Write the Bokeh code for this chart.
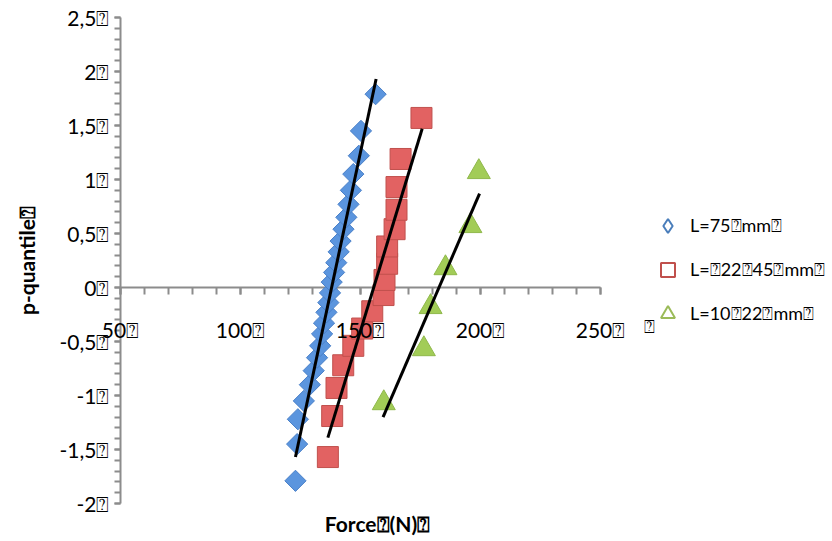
import numpy as np
from bokeh.plotting import figure
from bokeh.models import LinearAxis, FixedTicker, Legend, LegendItem, Label
from bokeh.embed import file_html
from bokeh.resources import INLINE

BOX = "\u2370"
FONT = "Lato, 'DejaVu Sans', sans-serif"

# ---- data ----
s1_name = "L=75" + BOX + "mm" + BOX
s1_force = [122.9, 123.6, 123.9, 126.4, 128.9, 130.5, 131.9, 133.2, 134.0, 134.8,
            135.8, 136.6, 137.3, 138.0, 139.0, 139.9, 140.9, 141.7, 142.9, 144.1,
            145.0, 146.0, 147.0, 149.3, 150.2, 156.3]
s1_q = [-1.79, -1.45, -1.22, -1.05, -0.90, -0.77, -0.65, -0.54, -0.43, -0.33,
        -0.23, -0.14, -0.05, 0.05, 0.14, 0.23, 0.33, 0.43, 0.54, 0.65,
        0.77, 0.90, 1.05, 1.22, 1.45, 1.79]

s2_name = "L=" + BOX + "22" + BOX + "45" + BOX + "mm" + BOX
s2_force = [136.4, 138.2, 140.0, 142.8, 147.0, 150.7, 154.9, 159.6,
            160.0, 161.1, 161.1, 164.2, 165.0, 165.0, 166.7, 175.4]
s2_q = [-1.57, -1.19, -0.93, -0.72, -0.54, -0.38, -0.22, -0.07,
        0.07, 0.22, 0.38, 0.54, 0.72, 0.93, 1.19, 1.57]

s3_name = "L=10" + BOX + "22" + BOX + "mm" + BOX
s3_force = [159.7, 176.4, 179.2, 185.4, 195.8, 199.3]
s3_q = [-1.07, -0.57, -0.18, 0.18, 0.57, 1.07]

fit1_force = [122.9, 156.5]
fit1_q = [-1.57, 1.93]
fit2_force = [136.4, 175.7]
fit2_q = [-1.39, 1.47]
fit3_force = [159.4, 199.6]
fit3_q = [-1.20, 0.87]

x_ticks = [50, 100, 150, 200, 250]
x_tick_labels = ["50" + BOX, "100" + BOX, "150" + BOX, "200" + BOX, "250" + BOX]
y_ticks = [-2, -1.5, -1, -0.5, 0, 0.5, 1, 1.5, 2, 2.5]
y_tick_labels = ["-2" + BOX, "-1,5" + BOX, "-1" + BOX, "-0,5" + BOX, "0" + BOX,
                 "0,5" + BOX, "1" + BOX, "1,5" + BOX, "2" + BOX, "2,5" + BOX]
x_title = "Force" + BOX + "(N)" + BOX
y_title = "p-quantile" + BOX

# ---- figure: frame covers the whole canvas, axes are bounded ----
W, H = 832, 541
X0_PX, PX_PER_N = 120, 2.4      # force 50 sits 120 px from the left
Y0_PX, PX_PER_Q = 287, 108      # quantile 0 sits 287 px from the top
x_lo = 50 - X0_PX / PX_PER_N
x_hi = 50 + (W - X0_PX) / PX_PER_N
y_hi = Y0_PX / PX_PER_Q
y_lo = -(H - Y0_PX) / PX_PER_Q

p = figure(width=W, height=H, x_range=(x_lo, x_hi), y_range=(y_lo, y_hi),
           output_backend="svg", toolbar_location=None,
           x_axis_location=None, y_axis_location=None,
           min_border=0, min_border_left=0, min_border_right=0,
           min_border_top=0, min_border_bottom=0)
p.grid.visible = False
p.outline_line_color = None
p.background_fill_color = "white"

AX = "#8c8c8c"
y_minor = [round(v, 2) for v in np.arange(-2, 2.51, 0.1)]
x_minor = list(range(50, 251, 10))


def make_axes(fixed, bounds, ticks, minor, labels, tick_out, standoff, side, title=None):
    # line + ticks under the markers
    line_ax = LinearAxis(
        fixed_location=fixed, bounds=bounds,
        ticker=FixedTicker(ticks=ticks, minor_ticks=minor),
        major_label_text_alpha=0,
        major_label_overrides=dict(zip(ticks, labels)),
        major_label_text_font=FONT, major_label_text_font_size="21px",
        major_label_standoff=standoff,
        axis_line_color=AX, axis_line_width=2,
        major_tick_line_color=AX, major_tick_line_width=2,
        major_tick_in=0, major_tick_out=tick_out,
        minor_tick_line_color=AX, minor_tick_line_width=2,
        minor_tick_in=0, minor_tick_out=tick_out,
        level="underlay",
    )
    # labels over the markers
    lab_ax = LinearAxis(
        fixed_location=fixed, bounds=bounds,
        ticker=FixedTicker(ticks=ticks, minor_ticks=[]),
        major_label_overrides=dict(zip(ticks, labels)),
        major_label_text_font=FONT, major_label_text_font_size="21px",
        major_label_text_color="black", major_label_standoff=standoff,
        axis_line_color=None, major_tick_line_color=None, minor_tick_line_color=None,
        major_tick_in=0, major_tick_out=tick_out,
        level="guide",
    )
    if title is not None:
        lab_ax.axis_label = title
        lab_ax.axis_label_text_font = FONT
        lab_ax.axis_label_text_font_size = "21px"
        lab_ax.axis_label_text_font_style = "bold"
        lab_ax.axis_label_text_color = "black"
        lab_ax.axis_label_standoff = 18
    p.add_layout(line_ax, side)
    p.add_layout(lab_ax, side)


make_axes(50, (-2, 2.5), y_ticks, y_minor, y_tick_labels, 6, 5, "left", y_title)
make_axes(0, (50, 250), x_ticks, x_minor, x_tick_labels, 7, 22, "below")

# ---- series ----
p.scatter(s1_force, s1_q, marker="square", angle=np.pi / 4, size=15,
          fill_color="#5b95de", line_color="#4a80c8", line_width=1)
p.scatter(s2_force, s2_q, marker="square", size=21,
          fill_color="#e26262", line_color="#c0504d", line_width=1)
p.scatter(s3_force, s3_q, marker="triangle", size=23,
          fill_color="#a2cc57", line_color="#8fb84b", line_width=1)

p.line(fit1_force, fit1_q, line_color="black", line_width=3)
p.line(fit2_force, fit2_q, line_color="black", line_width=3)
p.line(fit3_force, fit3_q, line_color="black", line_width=3)

# legend (hollow markers as in the reference)
l1 = p.scatter([np.nan], [np.nan], marker="diamond", size=10,
               fill_color=None, line_color="#4a7ebb", line_width=2)
l2 = p.scatter([np.nan], [np.nan], marker="square", size=10,
               fill_color=None, line_color="#c0504d", line_width=2)
l3 = p.scatter([np.nan], [np.nan], marker="triangle", size=10,
               fill_color=None, line_color="#9bbb59", line_width=2)

legend = Legend(items=[LegendItem(label=s1_name, renderers=[l1]),
                       LegendItem(label=s2_name, renderers=[l2]),
                       LegendItem(label=s3_name, renderers=[l3])],
                location=(650, 210), glyph_width=35, glyph_height=35, spacing=9,
                padding=0, margin=0, label_standoff=5,
                border_line_alpha=0, background_fill_alpha=0,
                label_text_font=FONT, label_text_font_size="18px",
                label_text_color="black")
p.add_layout(legend, "center")

p.add_layout(Label(x=157.1, y=-2.185, text=x_title, text_align="center",
                   text_baseline="middle", text_font=FONT, text_font_size="21px",
                   text_font_style="bold", text_color="black"))
p.add_layout(Label(x=270.4, y=-0.352, text=BOX, text_align="center",
                   text_baseline="middle", text_font=FONT, text_font_size="18px",
                   text_color="black"))

open("out.html", "w").write(file_html(p, INLINE))
